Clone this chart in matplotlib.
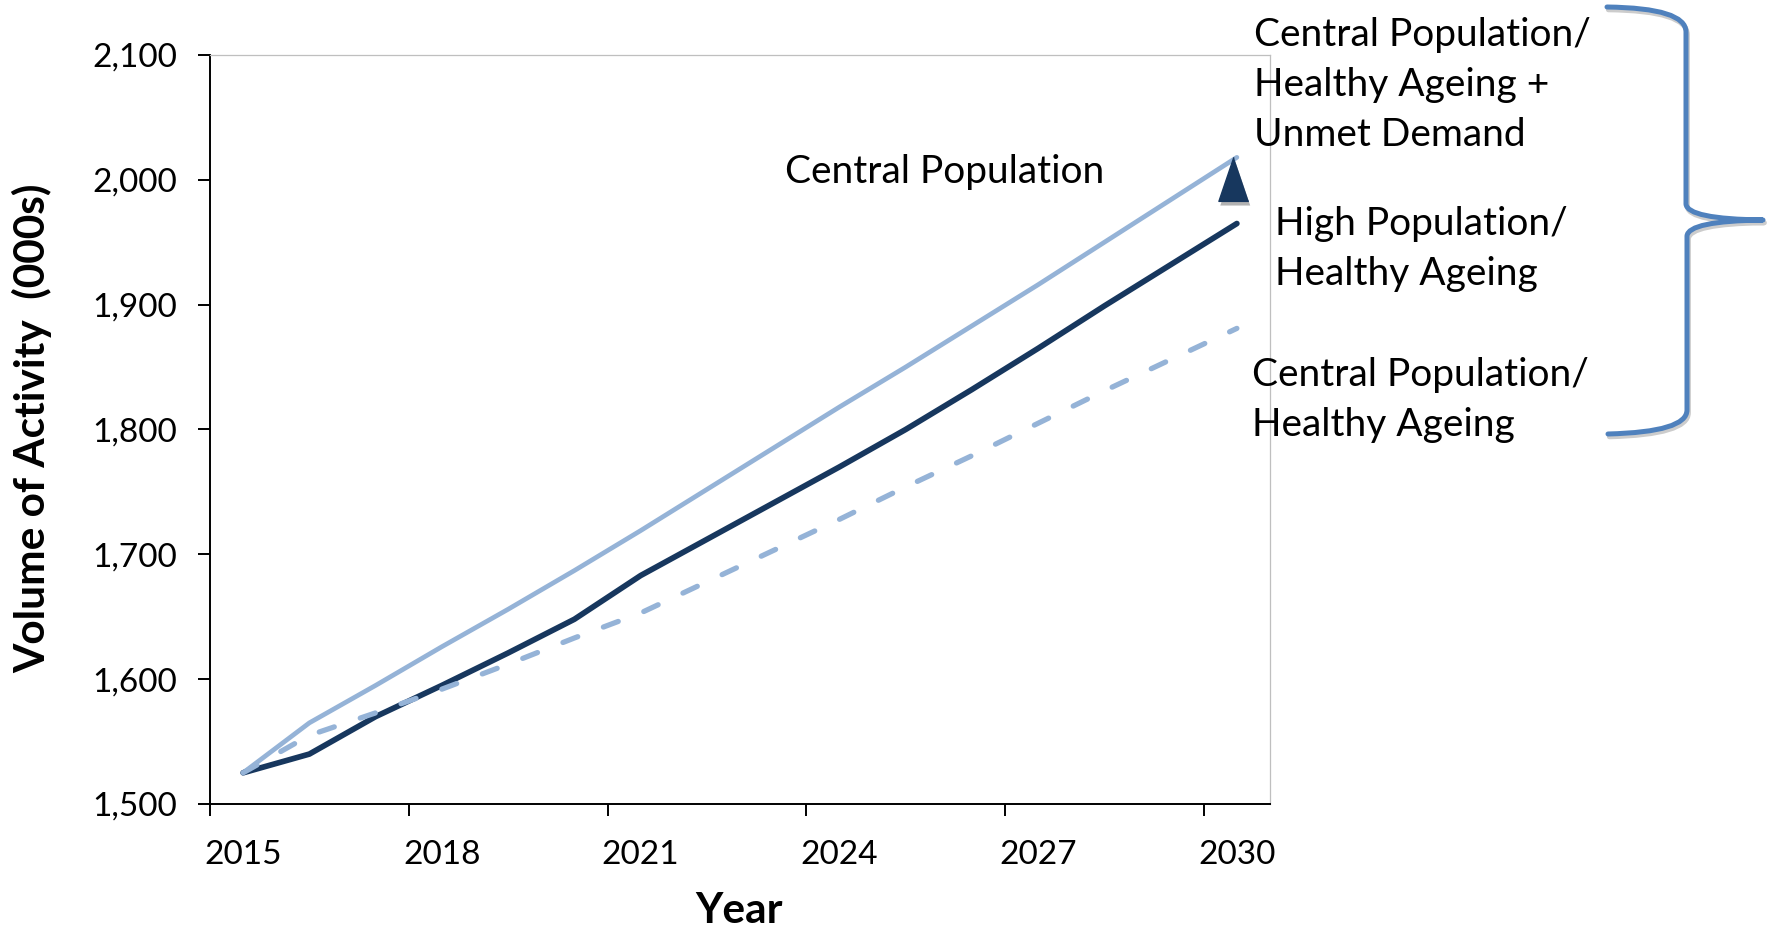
import matplotlib.pyplot as plt
import matplotlib.patheffects as pe
from matplotlib.path import Path
from matplotlib.patches import PathPatch
from matplotlib.transforms import offset_copy

plt.rcParams["font.family"] = ["Lato", "DejaVu Sans"]

years = list(range(2015, 2031))
# Activity projections, thousands
central_unmet = [1525, 1565, 1595, 1626, 1656, 1687, 1719, 1752, 1785, 1818, 1850, 1883, 1916, 1950, 1984, 2018]
high_healthy = [1525, 1540, 1570, 1595, 1621, 1648, 1683, 1712, 1741, 1770, 1800, 1832, 1865, 1899, 1932, 1965]
central_healthy = [1525, 1555, 1573, 1592, 1612, 1633, 1653, 1678, 1703, 1728, 1754, 1779, 1805, 1831, 1856, 1881]

label_years = [2015, 2018, 2021, 2024, 2027, 2030]
y_ticks = [1500, 1600, 1700, 1800, 1900, 2000, 2100]

light = "#95B3D7"
dark = "#17375E"

W, H = 1768, 931
fig = plt.figure(figsize=(W / 100, H / 100), dpi=100)
ax = fig.add_axes([210 / W, 1 - 804 / H, 1060 / W, 749 / H])

ax.plot(years, central_unmet, color=light, lw=3.4, solid_capstyle="round", solid_joinstyle="round")
ax.plot(years, high_healthy, color=dark, lw=4.1, solid_capstyle="round", solid_joinstyle="round")
ax.plot(years, central_healthy, color=light, lw=3.8, linestyle=(0, (3.0, 5.2)), dash_capstyle="round")

# arrow head sitting under the end of the top line
tri = [(0, 1), (-0.68, -1), (0.68, -1)]
ax.plot([years[-1]], [central_unmet[-1]], marker=tri, markersize=31.7, color=dark, linestyle="none",
        transform=offset_copy(ax.transData, fig=fig, x=-3, y=-22, units="dots"),
        path_effects=[pe.withSimplePatchShadow(offset=(1, -3), shadow_rgbFace="black", alpha=0.3)])

ax.set_xlim(2014.5, 2030.5)
ax.set_ylim(1500, 2100)
ax.set_xticks([y - 0.5 for y in label_years])
ax.set_xticklabels([])
ax.set_xticks(label_years, minor=True)
ax.set_xticklabels([str(y) for y in label_years], minor=True)
ax.set_yticks(y_ticks)
ax.set_yticklabels([f"{v:,}" for v in y_ticks])
ax.tick_params(axis="x", which="major", direction="out", length=8.6, width=1.4)
ax.tick_params(axis="x", which="minor", length=0, pad=26, labelsize=24)
ax.tick_params(axis="y", direction="out", length=8.6, width=1.4, pad=15, labelsize=24)

for side in ["left", "bottom"]:
    ax.spines[side].set_color("black")
    ax.spines[side].set_linewidth(1.4)
for side in ["top", "right"]:
    ax.spines[side].set_color("#BFBFBF")
    ax.spines[side].set_linewidth(0.9)

fig.text(32 / W, 1 - 428 / H, "Volume of Activity  (000s)", rotation=90, ha="center", va="center",
         fontsize=30.5, fontweight="bold")
fig.text(739 / W, 1 - 911 / H, "Year", ha="center", va="center", fontsize=30.5, fontweight="bold")

ax.text(785 / W, 1 - 172 / H, "Central Population", transform=fig.transFigure, ha="left", va="center",
        fontsize=28)
fig.text(1254 / W, 1 - 85 / H, "Central Population/\nHealthy Ageing +\nUnmet Demand", ha="left", va="center",
         fontsize=28, linespacing=1.47)
fig.text(1275 / W, 1 - 249 / H, "High Population/\nHealthy Ageing", ha="left", va="center",
         fontsize=28, linespacing=1.47)
fig.text(1252 / W, 1 - 400 / H, "Central Population/\nHealthy Ageing", ha="left", va="center",
         fontsize=28, linespacing=1.47)

# curly brace grouping the three scenarios
brace_px = [(1607, 7), (1686, 8), (1686, 32), (1686, 204), (1687, 219), (1763, 220),
            (1688, 221), (1687, 236), (1687, 410), (1687, 432), (1608, 434)]
codes = [Path.MOVETO, Path.CURVE3, Path.CURVE3, Path.LINETO, Path.CURVE3, Path.CURVE3,
         Path.CURVE3, Path.CURVE3, Path.LINETO, Path.CURVE3, Path.CURVE3]
brace = Path([(x / W, 1 - y / H) for x, y in brace_px], codes)
fig.patches.append(PathPatch(brace, transform=fig.transFigure, fill=False, edgecolor="#4F81BD", lw=3.6,
                             capstyle="round", joinstyle="round",
                             path_effects=[pe.SimpleLineShadow(offset=(1, -2), alpha=0.2), pe.Normal()]))

fig.savefig("out.png", dpi=100)
